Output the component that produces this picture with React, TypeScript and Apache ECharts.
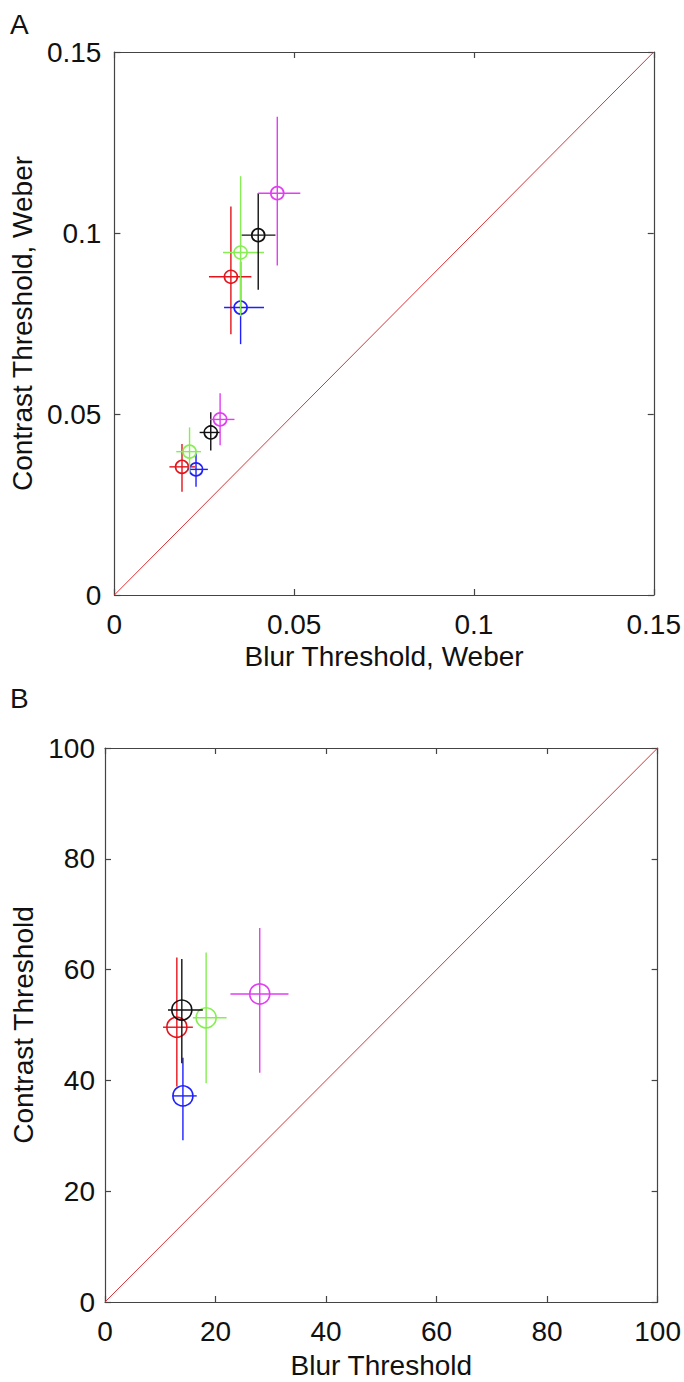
import React, { useEffect, useRef } from "react";
import * as echarts from "echarts";

// group order: red, blue, green, black, magenta
const groupColors = ["#e3141b", "#1f1fff", "#86ee52", "#111111", "#e23ef2"];

// Panel A (Weber) – two clusters of five conditions each
const aColorIdx = [0, 1, 2, 3, 4, 0, 1, 2, 3, 4];
const aX = [0.0324, 0.0351, 0.0351, 0.04, 0.0453, 0.0188, 0.0227, 0.0209, 0.0268, 0.0294];
const aY = [0.0879, 0.0794, 0.0946, 0.0994, 0.111, 0.0354, 0.0347, 0.0396, 0.0449, 0.0485];
const aXLo = [0.0263, 0.0305, 0.0302, 0.0354, 0.04, 0.0153, 0.0206, 0.0172, 0.0237, 0.0266];
const aXHi = [0.0381, 0.0416, 0.0416, 0.0448, 0.0517, 0.0224, 0.026, 0.0241, 0.0294, 0.0334];
const aYLo = [0.072, 0.0693, 0.077, 0.0843, 0.091, 0.0285, 0.0299, 0.0337, 0.0399, 0.0414];
const aYHi = [0.1073, 0.0921, 0.1157, 0.111, 0.1321, 0.0417, 0.0391, 0.0463, 0.0505, 0.0557];
const aTicks = ["0", "0.05", "0.1", "0.15"];
const aDiagonal = [0, 0.15];

// Panel B
const bColorIdx = [0, 1, 2, 3, 4];
const bX = [13.0, 14.1, 18.3, 13.9, 28.0];
const bY = [49.6, 37.2, 51.3, 52.7, 55.6];
const bXLo = [10.5, 12.2, 15.9, 11.4, 22.7];
const bXHi = [15.9, 16.6, 22.0, 17.7, 33.2];
const bYLo = [38.9, 29.2, 39.5, 43.1, 41.4];
const bYHi = [62.2, 44.1, 63.1, 61.9, 67.5];
const bTicks = ["0", "20", "40", "60", "80", "100"];
const bDiagonal = [0, 100];

const FONT = "Liberation Sans, Arial, Helvetica, sans-serif";
const FS = 28;
const DIAG_COLOR = "#dc3236";

function buildData(cIdx: number[], x: number[], y: number[], xl: number[], xh: number[], yl: number[], yh: number[]) {
  return x.map((_, i) => [x[i], y[i], xl[i], xh[i], yl[i], yh[i], cIdx[i]]);
}

function makeRender(radius: number) {
  return (params: any, api: any) => {
    const x = api.value(0), y = api.value(1);
    const xl = api.value(2), xh = api.value(3), yl = api.value(4), yh = api.value(5);
    const color = groupColors[api.value(6)];
    const c = api.coord([x, y]);
    const pL = api.coord([xl, y]);
    const pR = api.coord([xh, y]);
    const pT = api.coord([x, yh]);
    const pB = api.coord([x, yl]);
    const style = { stroke: color, lineWidth: 1.4, fill: null };
    return {
      type: "group",
      children: [
        { type: "line", shape: { x1: pL[0], y1: pL[1], x2: pR[0], y2: pR[1] }, style },
        { type: "line", shape: { x1: pT[0], y1: pT[1], x2: pB[0], y2: pB[1] }, style },
        { type: "circle", shape: { cx: c[0], cy: c[1], r: radius }, style: { stroke: color, lineWidth: 1.6, fill: "none" } },
      ],
    };
  };
}

function renderDiag(params: any, api: any) {
  const a = api.value(0), b = api.value(1);
  const p0 = api.coord([a, a]);
  const p1 = api.coord([b, b]);
  return {
    type: "line",
    shape: { x1: p0[0], y1: p0[1], x2: p1[0], y2: p1[1] },
    style: { stroke: DIAG_COLOR, lineWidth: 1, fill: null },
  };
}

function axisSet(gridIndex: number, max: number, interval: number, labels: boolean, position: string, margin: number) {
  const arr = max > 1 ? bTicks : aTicks;
  return {
    type: "value",
    gridIndex,
    min: 0,
    max,
    interval,
    position,
    axisLine: { show: true, onZero: false, lineStyle: { color: "#444", width: 1.2 } },
    axisTick: { show: true, inside: true, length: 6, lineStyle: { color: "#444", width: 1.2 } },
    splitLine: { show: false },
    axisLabel: {
      show: labels,
      color: "#111",
      fontSize: FS,
      fontFamily: FONT,
      margin,
      formatter: (v: number) => {
        const idx = Math.round(v / interval);
        return arr[idx] ?? String(v);
      },
    },
  } as any;
}

const nameStyle = { fontSize: FS, fontFamily: FONT, color: "#111" };

export default function App() {
  const ref = useRef<HTMLDivElement>(null);
  useEffect(() => {
    if (!ref.current) return;
    const chart = echarts.init(ref.current, undefined, { renderer: "svg" });
    const option: any = {
      animation: false,
      backgroundColor: "#ffffff",
      grid: [
        { left: 112, top: 52, width: 543, height: 543 },
        { left: 105, top: 748, width: 555, height: 554 },
      ],
      xAxis: [
        { ...axisSet(0, 0.15, 0.05, true, "bottom", 15), name: "Blur Threshold, Weber", nameLocation: "middle", nameGap: 47, nameTextStyle: nameStyle },
        axisSet(0, 0.15, 0.05, false, "top", 15),
        { ...axisSet(1, 100, 20, true, "bottom", 15), name: "Blur Threshold", nameLocation: "middle", nameGap: 49, nameTextStyle: nameStyle },
        axisSet(1, 100, 20, false, "top", 15),
      ],
      yAxis: [
        { ...axisSet(0, 0.15, 0.05, true, "left", 13), name: "Contrast Threshold, Weber", nameLocation: "middle", nameGap: 74, nameTextStyle: nameStyle },
        axisSet(0, 0.15, 0.05, false, "right", 13),
        { ...axisSet(1, 100, 20, true, "left", 10), name: "Contrast Threshold", nameLocation: "middle", nameGap: 66, nameTextStyle: nameStyle },
        axisSet(1, 100, 20, false, "right", 10),
      ],
      graphic: [
        { type: "text", left: 10, top: 10, style: { text: "A", fontSize: FS, fontFamily: FONT, fill: "#111" } },
        { type: "text", left: 10, top: 684, style: { text: "B", fontSize: FS, fontFamily: FONT, fill: "#111" } },
      ],
      series: [
        {
          type: "custom",
          xAxisIndex: 0,
          yAxisIndex: 0,
          renderItem: renderDiag,
          encode: { x: [0, 1], y: [0, 1] },
          data: [aDiagonal],
          silent: true,
          z: 1,
        },
        {
          type: "custom",
          xAxisIndex: 2,
          yAxisIndex: 2,
          renderItem: renderDiag,
          encode: { x: [0, 1], y: [0, 1] },
          data: [bDiagonal],
          silent: true,
          z: 1,
        },
        {
          type: "custom",
          xAxisIndex: 0,
          yAxisIndex: 0,
          renderItem: makeRender(6.5),
          encode: { x: [0, 2, 3], y: [1, 4, 5] },
          data: buildData(aColorIdx, aX, aY, aXLo, aXHi, aYLo, aYHi),
          z: 2,
        },
        {
          type: "custom",
          xAxisIndex: 2,
          yAxisIndex: 2,
          renderItem: makeRender(10),
          encode: { x: [0, 2, 3], y: [1, 4, 5] },
          data: buildData(bColorIdx, bX, bY, bXLo, bXHi, bYLo, bYHi),
          z: 2,
        },
      ],
    };
    chart.setOption(option);
    return () => chart.dispose();
  }, []);
  return (
    <div
      ref={ref}
      style={{ position: "fixed", left: 0, top: 0, width: 684, height: 1382, background: "#fff" }}
    />
  );
}
